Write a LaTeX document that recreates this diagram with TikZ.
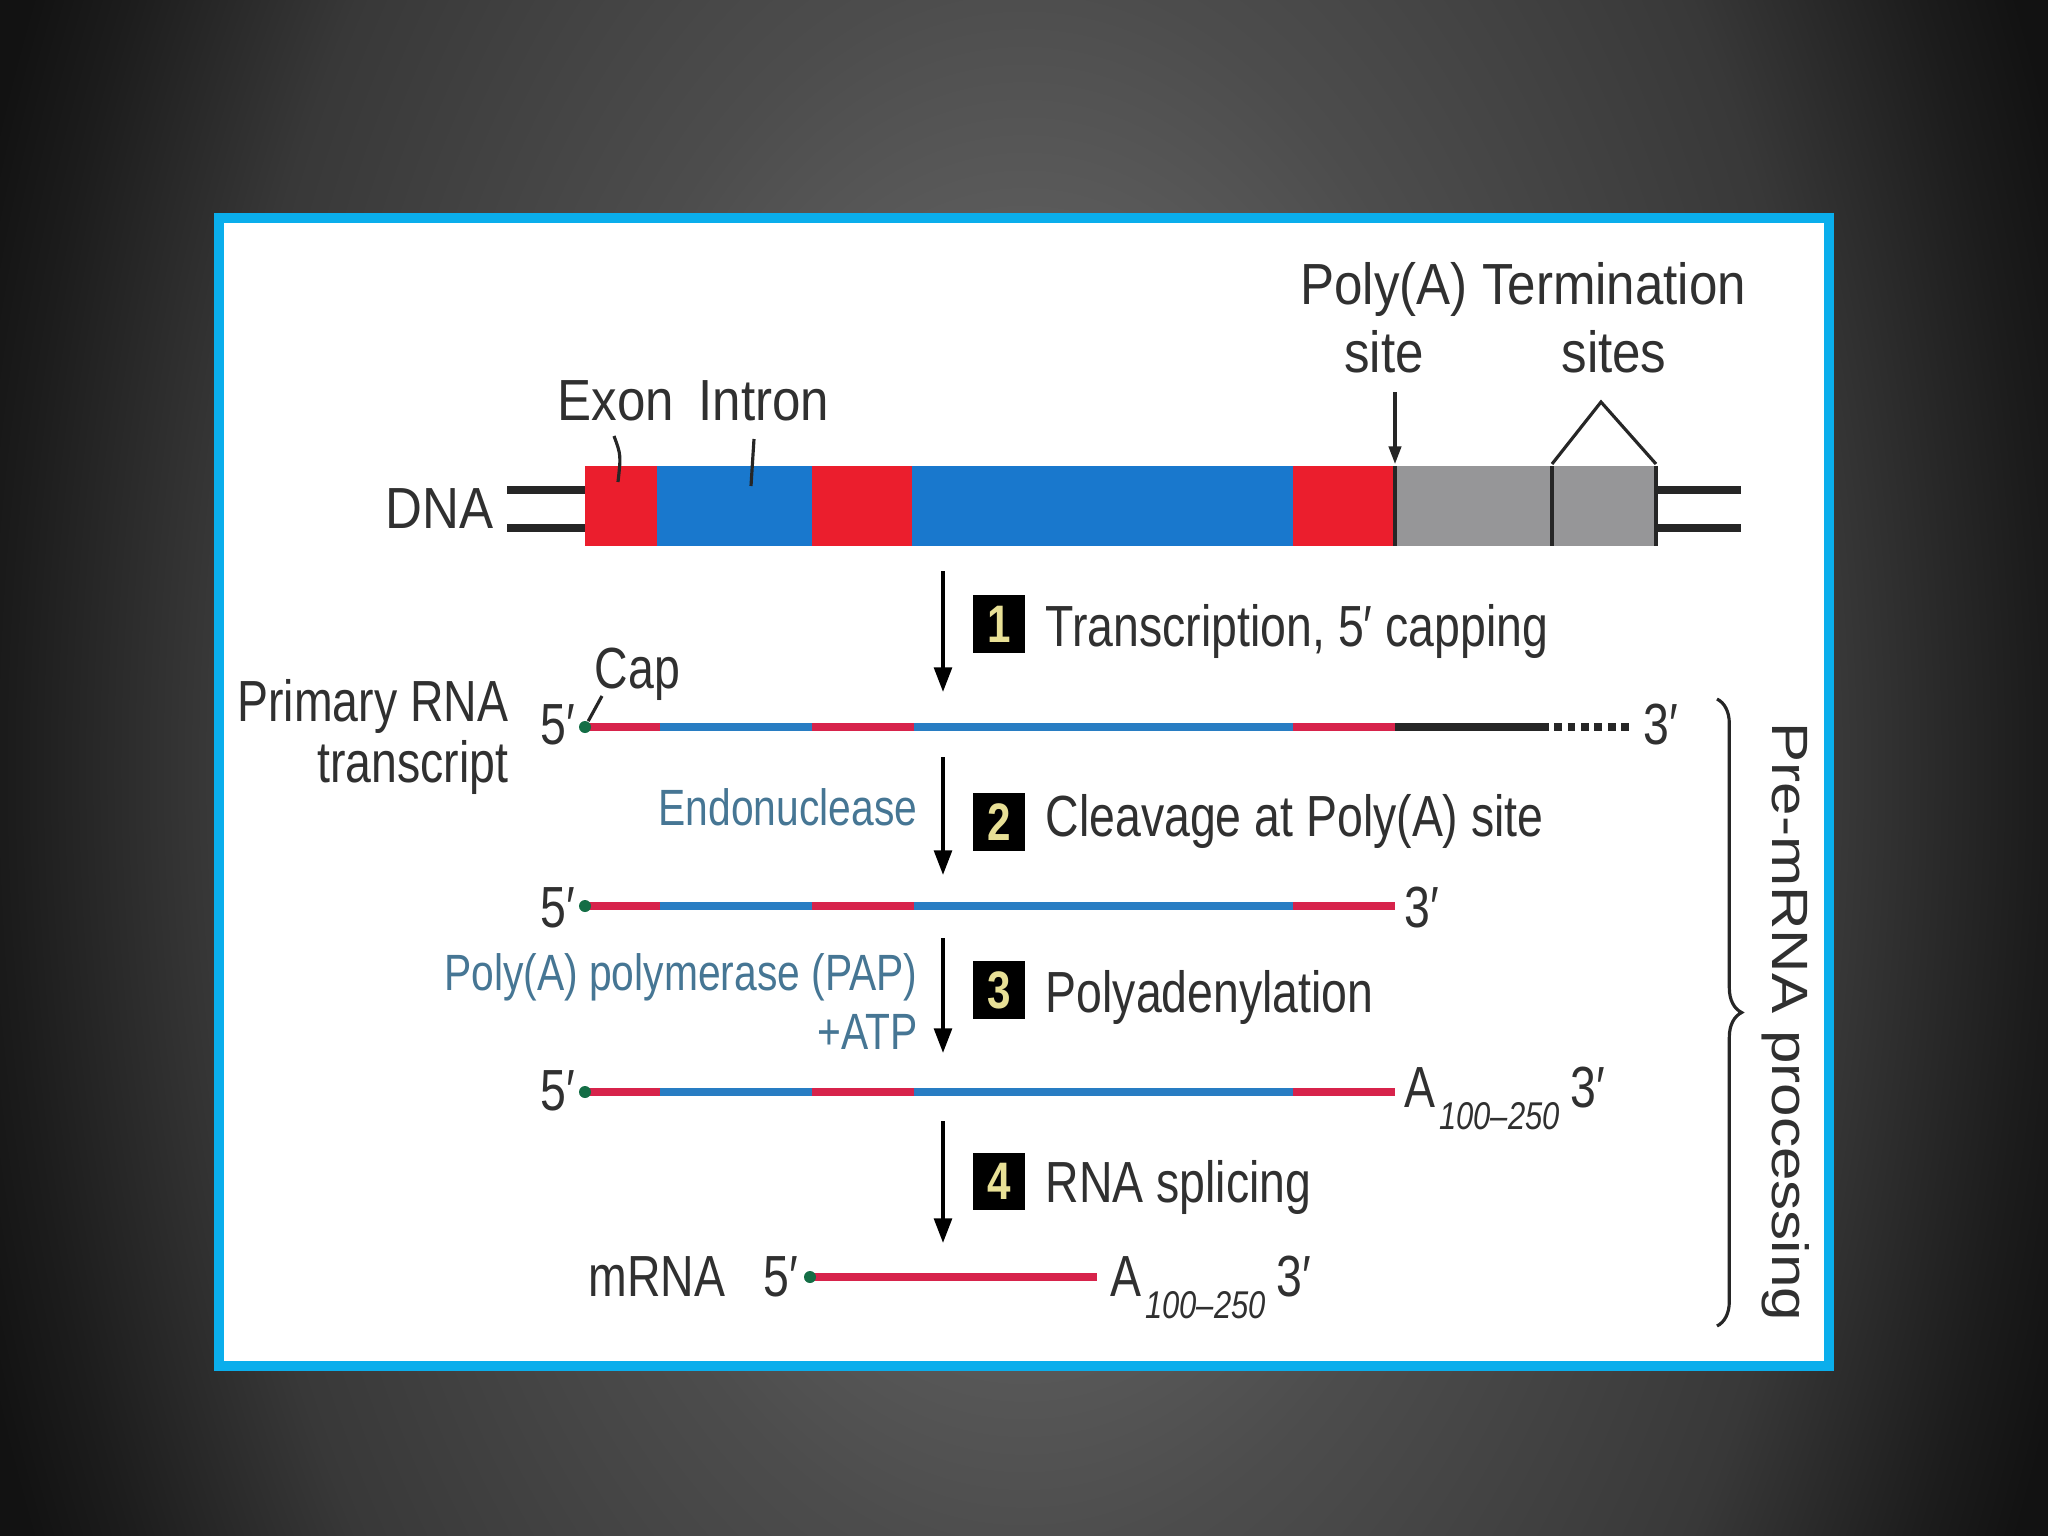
\documentclass[tikz,border=0pt]{standalone}
\usepackage{fontspec}
\setmainfont{Liberation Sans}[FakeStretch=0.8]
\newfontfamily\topfont{Liberation Sans}[FakeStretch=0.88]
\newfontfamily\widefont{Liberation Sans}[FakeStretch=1.18]
\usetikzlibrary{arrows.meta,decorations.pathreplacing}
\definecolor{bgout}{RGB}{18,18,18}
\definecolor{framec}{RGB}{10,174,236}
\definecolor{txt}{RGB}{48,48,48}
\definecolor{enzc}{RGB}{70,118,148}
\definecolor{dred}{RGB}{235,30,45}
\definecolor{dblue}{RGB}{25,120,205}
\definecolor{dgray}{RGB}{150,150,152}
\definecolor{rred}{RGB}{215,35,75}
\definecolor{rblue}{RGB}{40,125,195}
\definecolor{capc}{RGB}{20,110,70}
\definecolor{numc}{RGB}{232,224,150}
\pgfdeclareradialshading{vignette}{\pgfpoint{0bp}{0bp}}{color(0bp)=(black!61); color(6bp)=(black!62); color(11bp)=(black!70); color(18.5bp)=(black!78); color(23bp)=(black!89); color(25bp)=(black!93); color(50bp)=(black!93)}
\newcommand{\lblfont}{\fontsize{16.5}{19}\selectfont}
\newcommand{\toplblfont}{\topfont\fontsize{16.5}{19}\selectfont}
\newcommand{\enzfont}{\fontsize{14.5}{17}\selectfont}
\newcommand{\numfont}{\fontsize{15}{15}\selectfont\bfseries}
\newcommand{\subsc}{\raisebox{-6.5pt}{\fontsize{11}{11}\selectfont\itshape 100–250}}
\begin{document}
\begin{tikzpicture}[x=0.01cm,y=-0.01cm,
  lbl/.style={inner sep=0pt, font=\lblfont, text=txt},
  toplbl/.style={inner sep=0pt, font=\toplblfont, text=txt},
  enz/.style={inner sep=0pt, font=\enzfont, text=enzc},
  numbox/.style={fill=black, minimum width=0.52cm, minimum height=0.57cm, inner sep=0pt, text=numc, font=\numfont},
  steparrow/.style={draw=black, line width=1.1pt, -{Triangle[length=7pt,width=5pt]}},
  rna/.style={line width=2.4pt},
  strand/.style={draw=black!85, line width=2pt},
  pointer/.style={draw=black!85, line width=0.9pt},
  capdot/.style={circle, fill=capc, inner sep=0pt, minimum size=0.12cm}]
\useasboundingbox (0,0) rectangle (2048,1536);
% background
\begin{scope}
\clip (0,0) rectangle (2048,1536);
\fill[bgout] (0,0) rectangle (2048,1536);
\shade[shading=vignette] (1024,768) ellipse (1100 and 1800);
\end{scope}
% frame
\draw[framec, line width=2.6pt, fill=white] (219,218) rectangle (1829,1366);

% DNA
\fill[dred]  (585,466) rectangle (657,546);
\fill[dblue] (657,466) rectangle (812,546);
\fill[dred]  (812,466) rectangle (912,546);
\fill[dblue] (912,466) rectangle (1293,546);
\fill[dred]  (1293,466) rectangle (1395,546);
\fill[dgray] (1395,466) rectangle (1656,546);
\draw[black!85, line width=1.4pt] (1395,466) -- (1395,546);
\draw[black!85, line width=1.4pt] (1552,466) -- (1552,546);
\draw[black!85, line width=1.4pt] (1656,466) -- (1656,546);
\coordinate (dnaL1) at (585,490); \coordinate (dnaL2) at (585,528);
\coordinate (dnaR1) at (1656,490); \coordinate (dnaR2) at (1656,528);
\coordinate (endL1) at (507,490); \coordinate (endL2) at (507,528);
\coordinate (endR1) at (1741,490); \coordinate (endR2) at (1741,528);
\draw[strand] (endL1) -- (dnaL1);
\draw[strand] (endL2) -- (dnaL2);
\draw[strand] (dnaR1) -- (endR1);
\draw[strand] (dnaR2) -- (endR2);
\node[toplbl, anchor=base east] (dna) at (494,528) {DNA};

\node[toplbl, anchor=base] (exon) at (616,420) {Exon};
\node[toplbl, anchor=base] (intron) at (764,420) {Intron};
\coordinate (exonp) at (618,482);
\coordinate (intronp) at (751,486);
\draw[pointer] (614,436) .. controls (621,455) .. (exonp);
\draw[pointer] (754,439) -- (intronp);

\node[toplbl, anchor=base] (polyA1) at (1384,304) {Poly(A)};
\node[toplbl, anchor=base] (polyA2) at (1384,372) {site};
\node[toplbl, anchor=base] (term1) at (1614,304) {Termination};
\node[toplbl, anchor=base] (term2) at (1614,372) {sites};
\coordinate (pasTop) at (1395,392);
\coordinate (pasBot) at (1395,464);
\draw[pointer, -{Triangle[length=5pt,width=3.5pt]}] (pasTop) -- (pasBot);
\coordinate (tsA) at (1552,464);
\coordinate (tsApex) at (1601,402);
\coordinate (tsB) at (1656,464);
\draw[pointer] (tsA) -- (tsApex) -- (tsB);

% step 1
\coordinate (a1s) at (943,571); \coordinate (a1e) at (943,692);
\draw[steparrow] (a1s) -- (a1e);
\node[numbox] (n1) at (999,624) {1};
\node[lbl, anchor=base west] (s1) at (1045,646) {Transcription, 5′ capping};

% row 1: primary transcript
\draw[rna, rred]  (585,727) -- (660,727);
\draw[rna, rblue] (660,727) -- (812,727);
\draw[rna, rred]  (812,727) -- (914,727);
\draw[rna, rblue] (914,727) -- (1293,727);
\draw[rna, rred]  (1293,727) -- (1395,727);
\draw[rna, black!85] (1395,727) -- (1541,727);
\draw[rna, black!85, dash pattern=on 2.2pt off 1.6pt] (1541,727) -- (1633,727);
\node[capdot] (cap1) at (585,727) {};
\node[lbl, anchor=base east] (p5a) at (576,744) {5′};
\node[lbl, anchor=base west] (p3a) at (1643,744) {3′};
\node[lbl, anchor=base west] (cap) at (594,688) {Cap};
\coordinate (capp) at (602,696);
\draw[pointer] (cap1) -- (capp);
\node[lbl, anchor=base east] (prim1) at (509,721) {Primary RNA};
\node[lbl, anchor=base east] (prim2) at (509,782) {transcript};

% step 2
\coordinate (a2s) at (943,757); \coordinate (a2e) at (943,875);
\draw[steparrow] (a2s) -- (a2e);
\node[numbox] (n2) at (999,822) {2};
\node[lbl, anchor=base west] (s2) at (1045,836) {Cleavage at Poly(A) site};
\node[enz, anchor=base east] (endo) at (918,825) {Endonuclease};

% row 2
\draw[rna, rred]  (585,906) -- (660,906);
\draw[rna, rblue] (660,906) -- (812,906);
\draw[rna, rred]  (812,906) -- (914,906);
\draw[rna, rblue] (914,906) -- (1293,906);
\draw[rna, rred]  (1293,906) -- (1395,906);
\node[capdot] (cap2) at (585,906) {};
\node[lbl, anchor=base east] (p5b) at (576,927) {5′};
\node[lbl, anchor=base west] (p3b) at (1404,927) {3′};

% step 3
\coordinate (a3s) at (943,938); \coordinate (a3e) at (943,1053);
\draw[steparrow] (a3s) -- (a3e);
\node[numbox] (n3) at (999,990) {3};
\node[lbl, anchor=base west] (s3) at (1045,1012) {Polyadenylation};
\node[enz, anchor=base east] (pap) at (918,990) {Poly(A) polymerase (PAP)};
\node[enz, anchor=base east] (atp) at (918,1049) {+ATP};

% row 3
\draw[rna, rred]  (585,1092) -- (660,1092);
\draw[rna, rblue] (660,1092) -- (812,1092);
\draw[rna, rred]  (812,1092) -- (914,1092);
\draw[rna, rblue] (914,1092) -- (1293,1092);
\draw[rna, rred]  (1293,1092) -- (1395,1092);
\node[capdot] (cap3) at (585,1092) {};
\node[lbl, anchor=base east] (p5c) at (576,1110) {5′};
\node[lbl, anchor=base west] (polyAc) at (1404,1107) {A\hspace{1pt}\subsc\hspace{3pt}3′};

% step 4
\coordinate (a4s) at (943,1121); \coordinate (a4e) at (943,1243);
\draw[steparrow] (a4s) -- (a4e);
\node[numbox] (n4) at (999,1181) {4};
\node[lbl, anchor=base west] (s4) at (1045,1202) {RNA splicing};

% row 4: mRNA
\draw[rna, rred] (810,1277) -- (1097,1277);
\node[capdot] (cap4) at (810,1277) {};
\node[lbl, anchor=base east] (p5d) at (799,1296) {5′};
\node[lbl, anchor=base west] (polyAd) at (1110,1296) {A\hspace{1pt}\subsc\hspace{3pt}3′};
\node[lbl, anchor=base west] (mrna) at (588,1296) {mRNA};

% brace
\coordinate (brT) at (1717,699);
\coordinate (brB) at (1717,1326);
\draw[black!85, line width=0.9pt, decorate, decoration={brace, amplitude=7pt}] (brT) -- (brB);
\node[inner sep=0pt, font={\widefont\fontsize{14.5}{17}\selectfont}, text=txt, rotate=-90] (prem) at (1786,1022) {Pre-mRNA processing};
\end{tikzpicture}
\end{document}
